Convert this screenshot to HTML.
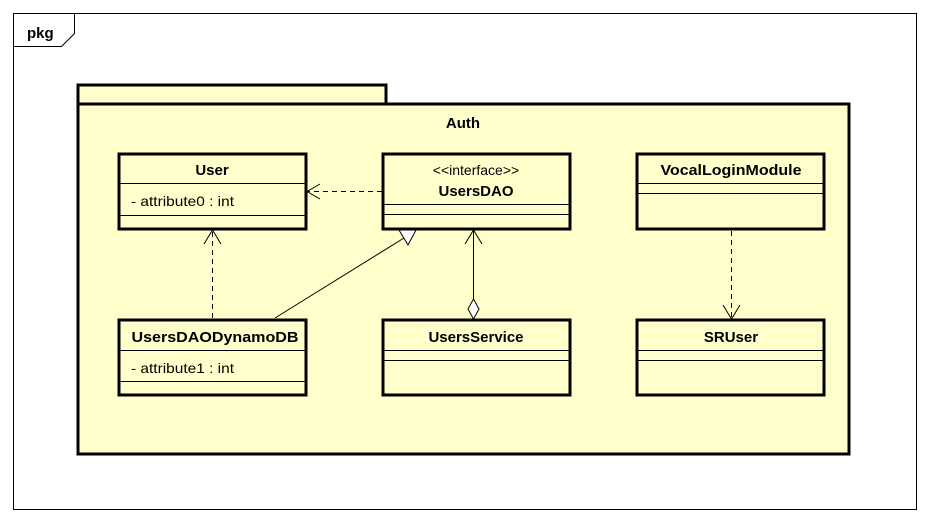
<!DOCTYPE html>
<html><head><meta charset="utf-8"><style>
html,body{margin:0;padding:0;background:#fff;}
svg{display:block;}
text{font-family:"Liberation Sans",Arial,sans-serif;}
</style></head><body>
<svg width="929" height="522" viewBox="0 0 929 522" xmlns="http://www.w3.org/2000/svg">
<rect x="0" y="0" width="929" height="522" fill="#fff"/>
<rect x="13.5" y="13.5" width="903" height="496" fill="#fff" stroke="#000" stroke-width="1"/>
<path d="M13.5 46.5 H61.5 L74.5 33.5 V13.5" fill="none" stroke="#000" stroke-width="1"/>
<text x="27" y="38" font-size="15" font-weight="bold">pkg</text>

<g stroke="#000" stroke-width="3" fill="#ffffcc">
<rect x="78" y="85" width="308" height="19"/>
<rect x="78" y="104" width="771" height="350"/>
</g>
<text x="463" y="128" font-size="15" font-weight="bold" text-anchor="middle">Auth</text>

<g stroke="#000" stroke-width="3" fill="#ffffcc">
<rect x="119" y="154" width="187" height="75"/>
<rect x="383" y="154" width="187" height="75"/>
<rect x="637" y="154" width="187" height="75"/>
<rect x="119" y="320" width="187" height="75"/>
<rect x="383" y="320" width="187" height="75"/>
<rect x="637" y="320" width="187" height="75"/>
</g>
<g stroke="#000" stroke-width="1">
<line x1="119" y1="183.5" x2="306" y2="183.5"/><line x1="119" y1="215.5" x2="306" y2="215.5"/>
<line x1="383" y1="204.5" x2="570" y2="204.5"/><line x1="383" y1="214.5" x2="570" y2="214.5"/>
<line x1="637" y1="183.5" x2="824" y2="183.5"/><line x1="637" y1="193.5" x2="824" y2="193.5"/>
<line x1="119" y1="350.5" x2="306" y2="350.5"/><line x1="119" y1="381.5" x2="306" y2="381.5"/>
<line x1="383" y1="350.5" x2="570" y2="350.5"/><line x1="383" y1="360.5" x2="570" y2="360.5"/>
<line x1="637" y1="350.5" x2="824" y2="350.5"/><line x1="637" y1="360.5" x2="824" y2="360.5"/>
</g>
<g font-size="15" font-weight="bold" text-anchor="middle">
<text x="212" y="175">User</text>
<text x="476" y="196">UsersDAO</text>
<text x="731" y="175" textLength="141" lengthAdjust="spacingAndGlyphs">VocalLoginModule</text>
<text x="215" y="342" textLength="167" lengthAdjust="spacingAndGlyphs">UsersDAODynamoDB</text>
<text x="476" y="342">UsersService</text>
<text x="731" y="342">SRUser</text>
</g>
<text x="476" y="175" font-size="14" text-anchor="middle">&lt;&lt;interface&gt;&gt;</text>
<text x="131" y="206" font-size="14" textLength="103" lengthAdjust="spacingAndGlyphs">- attribute0 : int</text>
<text x="131" y="373" font-size="14" textLength="103" lengthAdjust="spacingAndGlyphs">- attribute1 : int</text>

<g stroke="#000" stroke-width="1" fill="none">
<line x1="382" y1="191.5" x2="308" y2="191.5" stroke-dasharray="5,4"/>
<path d="M320 184 L307 191.5 L320 199"/>
<line x1="212.5" y1="318" x2="212.5" y2="231" stroke-dasharray="5,4"/>
<path d="M204 244 L212.5 230 L221 244"/>
<line x1="731.5" y1="231" x2="731.5" y2="318" stroke-dasharray="5,4"/>
<path d="M723 305 L731.5 319 L740 305"/>
<line x1="275" y1="318" x2="404" y2="238"/>
<polygon points="399,230 416,230 408,245" fill="#fff"/>
<line x1="473.5" y1="231" x2="473.5" y2="300"/>
<path d="M465 244 L473.5 230 L482 244"/>
<polygon points="473.5,299 479,309 473.5,319 468,309" fill="#fff"/>
</g>
</svg>
</body></html>
